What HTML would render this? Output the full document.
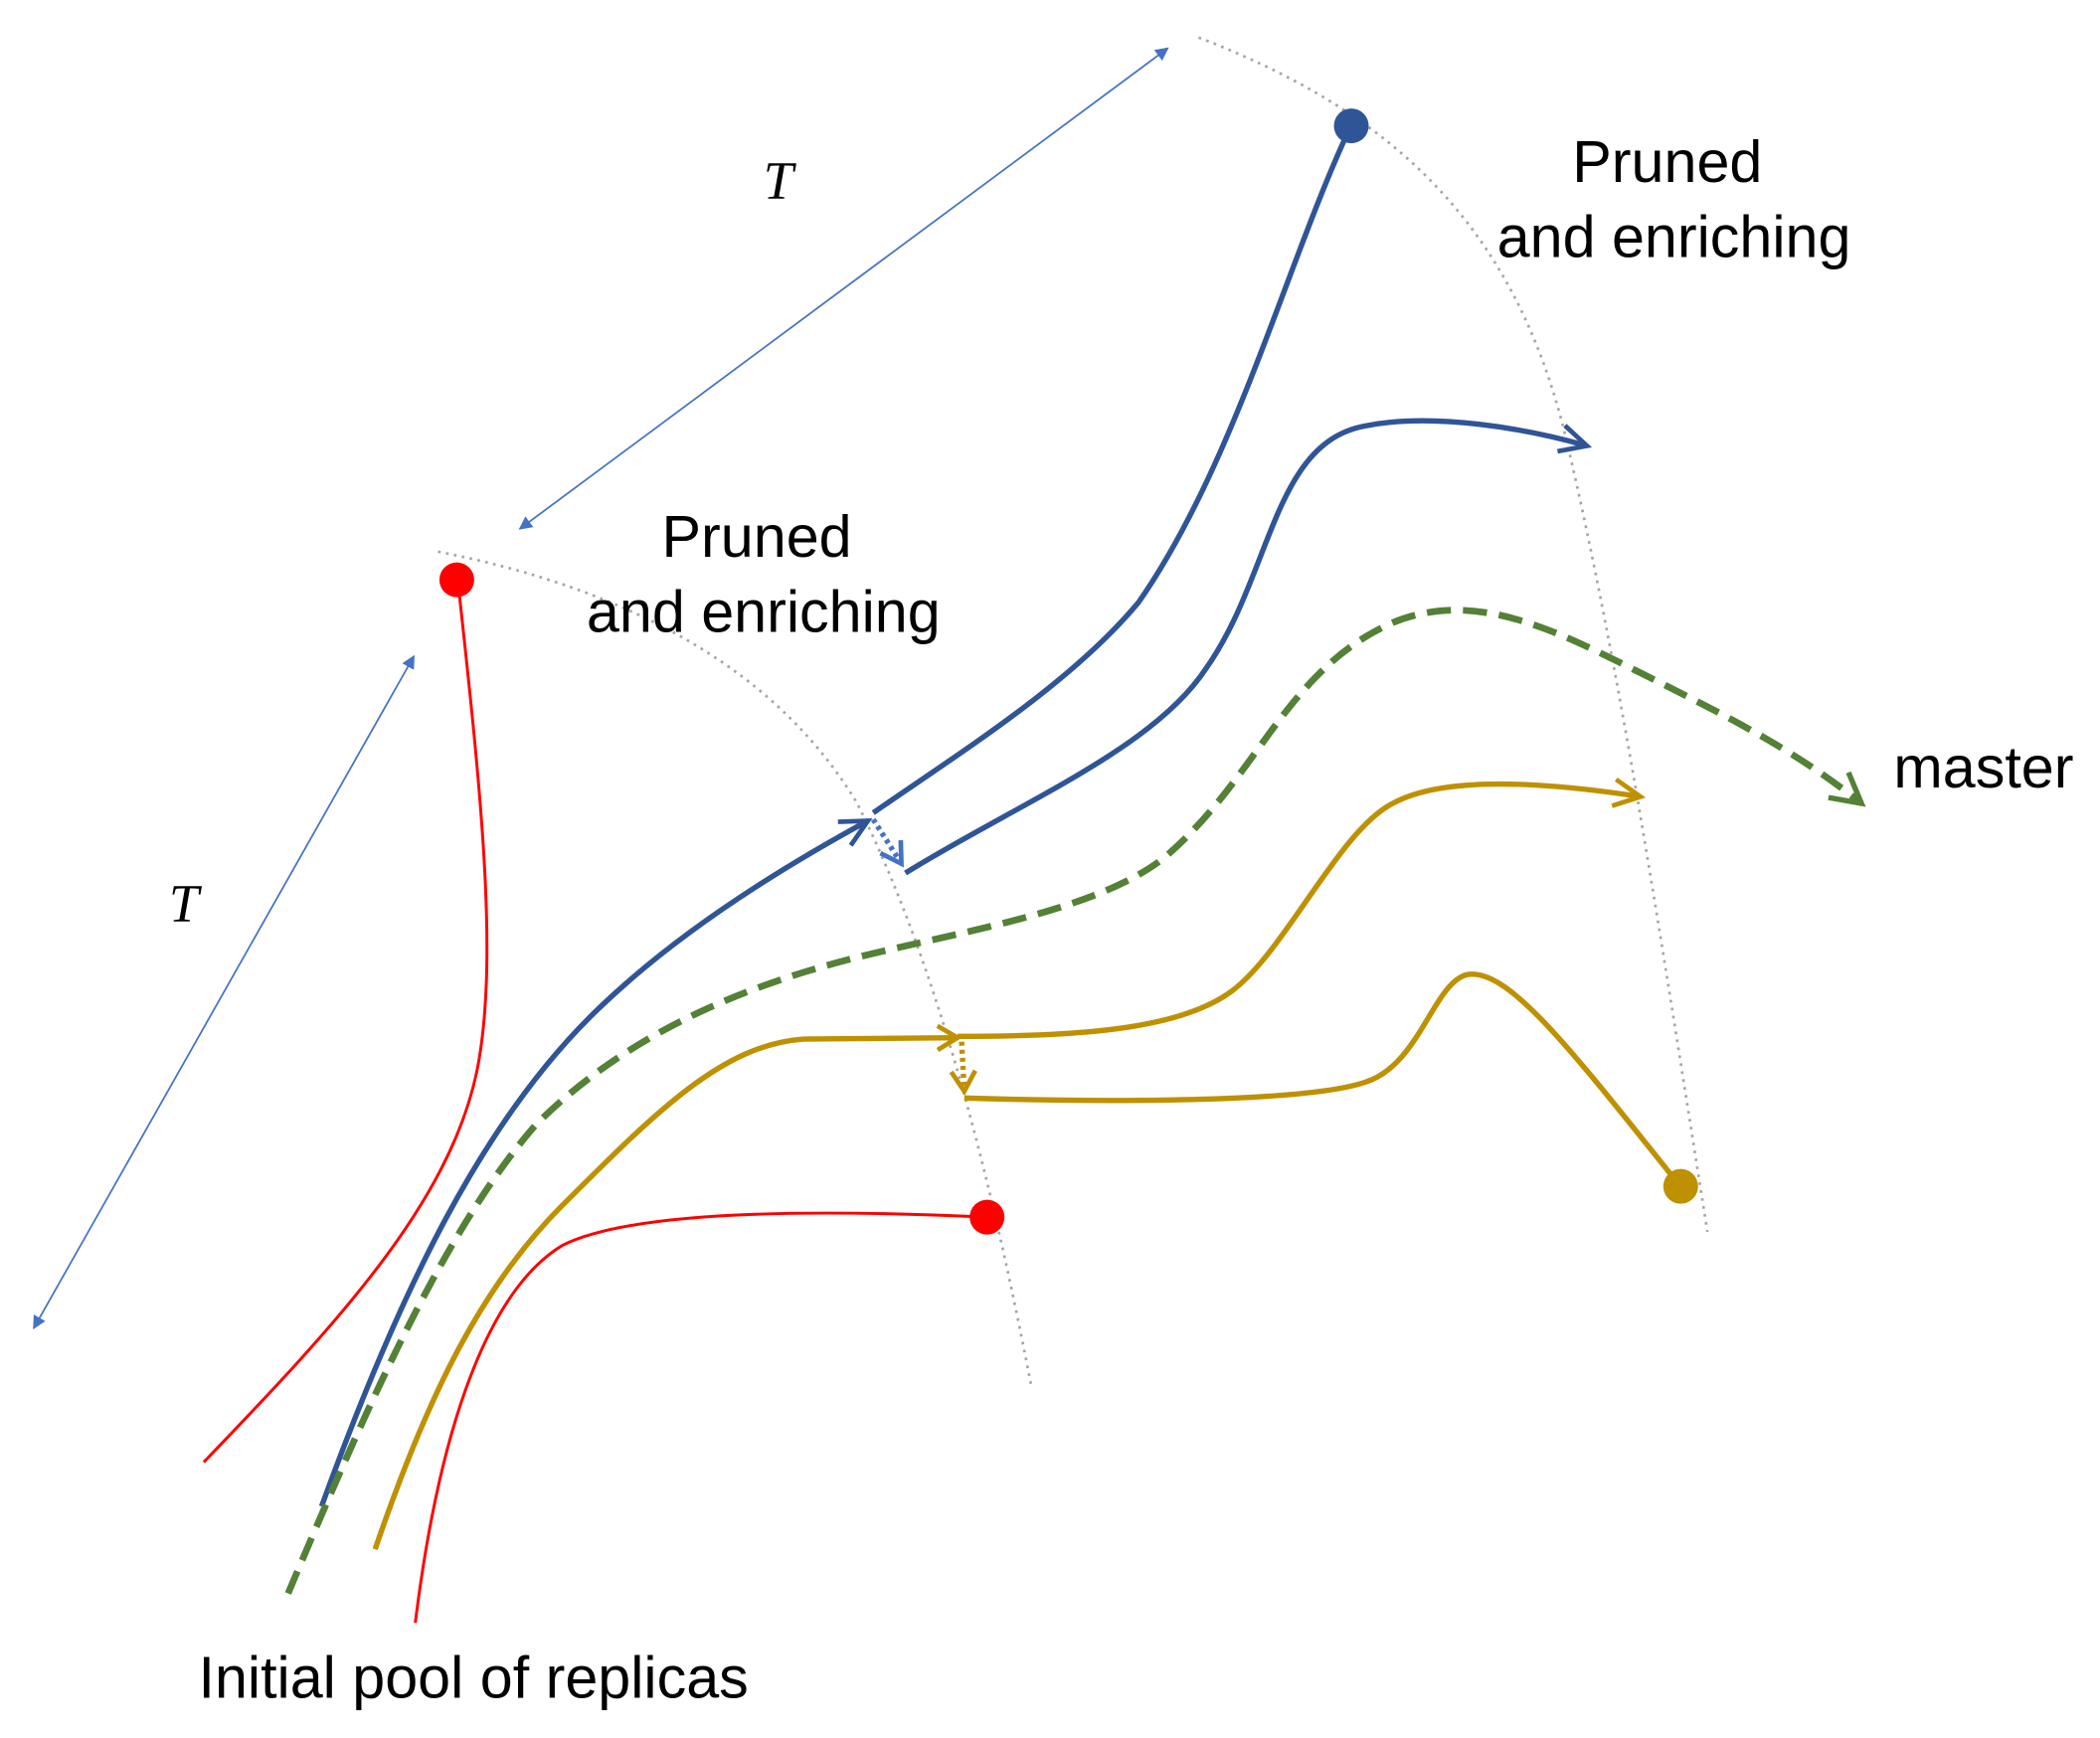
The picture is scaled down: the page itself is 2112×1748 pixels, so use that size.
<!DOCTYPE html>
<html><head><meta charset="utf-8"><style>
html,body{margin:0;padding:0;background:#fff;}
svg{display:block;}
text{font-family:"Liberation Sans",sans-serif;font-size:44px;fill:#000;}
</style></head><body>
<svg width="2112" height="1748" viewBox="0 0 1568 1298" xmlns="http://www.w3.org/2000/svg">
<defs>
<marker id="tb" markerWidth="10" markerHeight="10" refX="9" refY="5" orient="auto-start-reverse" markerUnits="userSpaceOnUse" viewBox="0 0 10 10"><path d="M0,0 L10,5 L0,10 z" fill="#4472C4"/></marker>
<marker id="ob" markerWidth="30" markerHeight="30" refX="26" refY="15" orient="auto" markerUnits="userSpaceOnUse" viewBox="0 0 30 30"><path d="M6,5 L26,15 L6,25" fill="none" stroke="#2F5597" stroke-width="3.5"/></marker>
<marker id="obl" markerWidth="24" markerHeight="24" refX="19" refY="12" orient="auto" markerUnits="userSpaceOnUse" viewBox="0 0 24 24"><path d="M4,3 L19,12 L4,21" fill="none" stroke="#4472C4" stroke-width="3.5"/></marker>
<marker id="og" markerWidth="36" markerHeight="36" refX="30" refY="18" orient="auto" markerUnits="userSpaceOnUse" viewBox="0 0 36 36"><path d="M8,6 L30,18 L8,30" fill="none" stroke="#538135" stroke-width="4"/></marker>
<marker id="oy" markerWidth="30" markerHeight="30" refX="26" refY="15" orient="auto" markerUnits="userSpaceOnUse" viewBox="0 0 30 30"><path d="M6,5 L26,15 L6,25" fill="none" stroke="#BF9000" stroke-width="3.5"/></marker>
<marker id="oyl" markerWidth="24" markerHeight="24" refX="19" refY="12" orient="auto" markerUnits="userSpaceOnUse" viewBox="0 0 24 24"><path d="M4,3 L19,12 L4,21" fill="none" stroke="#BF9000" stroke-width="3.5"/></marker>
</defs>

<line x1="388" y1="395" x2="872" y2="36" stroke="#4472C4" stroke-width="1.3" marker-start="url(#tb)" marker-end="url(#tb)"/>
<line x1="25" y1="992" x2="309" y2="490" stroke="#4472C4" stroke-width="1.3" marker-start="url(#tb)" marker-end="url(#tb)"/>
<text x="570" y="148" style="font-family:'Liberation Serif',serif;font-style:italic;font-size:40px">T</text>
<text x="126" y="688" style="font-family:'Liberation Serif',serif;font-style:italic;font-size:40px">T</text>

<path d="M327,412 C470,440 580,500 640,600 C700,720 740,880 770,1035" fill="none" stroke="#A6A6A6" stroke-width="2" stroke-dasharray="2,4"/>
<path d="M895,28 C1030,80 1130,160 1170,330 C1210,500 1240,700 1275,920" fill="none" stroke="#A6A6A6" stroke-width="2" stroke-dasharray="2,4"/>

<path d="M343,445 C360,600 372,720 356,800 C335,900 250,990 152,1092" fill="none" stroke="#FF0000" stroke-width="2.2"/>
<path d="M310,1212 C330,1050 370,960 420,930 C480,900 650,905 737,909" fill="none" stroke="#FF0000" stroke-width="2.2"/>
<circle cx="341" cy="433" r="13" fill="#FF0000"/>
<circle cx="737" cy="909" r="13" fill="#FF0000"/>

<path d="M240,1125 C300,960 360,840 440,760 C500,700 580,650 648,613" fill="none" stroke="#2F5597" stroke-width="4" marker-end="url(#ob)"/>
<path d="M652,607 C720,560 800,510 850,450 C920,350 960,200 1005,102" fill="none" stroke="#2F5597" stroke-width="4"/>
<path d="M652,612 L673,645" fill="none" stroke="#4472C4" stroke-width="4" stroke-dasharray="3,3" marker-end="url(#obl)"/>
<path d="M676,652 C760,600 860,560 900,500 C950,430 950,330 1020,318 C1070,308 1140,320 1185,333" fill="none" stroke="#2F5597" stroke-width="4" marker-end="url(#ob)"/>
<circle cx="1009" cy="94" r="13" fill="#2F5597"/>

<path d="M215,1190 C270,1060 330,920 400,840 C460,780 540,740 640,715 C720,695 820,680 870,640 C940,580 960,500 1040,465 C1100,440 1160,470 1220,500 C1290,535 1340,560 1390,600" fill="none" stroke="#538135" stroke-width="5" stroke-dasharray="18,9" marker-end="url(#og)"/>

<path d="M280,1157 C320,1040 360,960 420,900 C490,830 540,780 600,776 L715,775" fill="none" stroke="#BF9000" stroke-width="4" marker-end="url(#oyl)"/>
<path d="M715,774 C800,774 880,770 920,740 C960,710 1000,620 1040,600 C1080,578 1160,585 1225,595" fill="none" stroke="#BF9000" stroke-width="4" marker-end="url(#oy)"/>
<path d="M718,778 L720,815" fill="none" stroke="#BF9000" stroke-width="4" stroke-dasharray="3,3" marker-end="url(#oyl)"/>
<path d="M720,820 C850,824 980,822 1020,808 C1060,795 1070,735 1095,728 C1125,722 1170,780 1250,880" fill="none" stroke="#BF9000" stroke-width="4"/>
<circle cx="1255" cy="886" r="13" fill="#BF9000"/>

<text x="565" y="416" text-anchor="middle">Pruned</text>
<text x="570" y="472" text-anchor="middle">and enriching</text>
<text x="1245" y="136" text-anchor="middle">Pruned</text>
<text x="1250" y="192" text-anchor="middle">and enriching</text>
<text x="1414" y="588">master</text>
<text x="148" y="1268">Initial pool of replicas</text>
</svg>
</body></html>
